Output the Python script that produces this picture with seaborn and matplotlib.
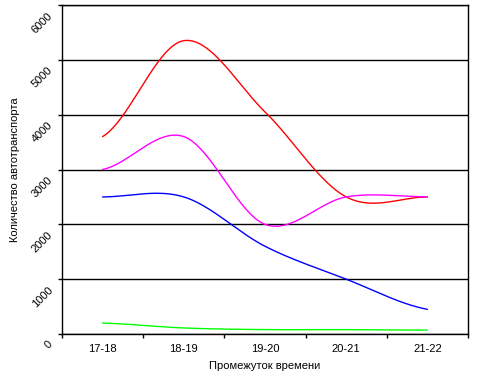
import numpy as np
import pandas as pd
import matplotlib
matplotlib.use("Agg")
import matplotlib.pyplot as plt
import matplotlib.transforms as mtransforms
import seaborn as sns

# categories and series values
periods = ['17-18', '18-19', '19-20', '20-21', '21-22']
red_vals = [3600, 5350, 4050, 2500, 2500]
magenta_vals = [3000, 3600, 2000, 2500, 2500]
blue_vals = [2500, 2500, 1600, 1000, 450]
green_vals = [200, 110, 80, 80, 70]
y_ticks = [0, 1000, 2000, 3000, 4000, 5000, 6000]


def smooth(vals, n=40):
    """Excel-like smoothed line (Catmull-Rom through each point)."""
    p = np.asarray(vals, dtype=float)
    pts = np.concatenate([[p[0]], p, [p[-1]]])
    xs, ys = [], []
    for i in range(len(p) - 1):
        p0, p1, p2, p3 = pts[i], pts[i + 1], pts[i + 2], pts[i + 3]
        t = np.linspace(0, 1, n, endpoint=(i == len(p) - 2))
        y = 0.5 * ((2 * p1) + (-p0 + p2) * t
                   + (2 * p0 - 5 * p1 + 4 * p2 - p3) * t ** 2
                   + (-p0 + 3 * p1 - 3 * p2 + p3) * t ** 3)
        xs.append(i + t)
        ys.append(y)
    return np.concatenate(xs), np.concatenate(ys)


sns.set_style("white")
plt.rcParams['font.family'] = ['Liberation Sans', 'DejaVu Sans']
plt.rcParams['text.color'] = 'black'
plt.rcParams['axes.labelcolor'] = 'black'
plt.rcParams['xtick.color'] = 'black'
plt.rcParams['ytick.color'] = 'black'

fig = plt.figure(figsize=(4.85, 3.84), dpi=100)
ax = fig.add_axes([62 / 485, 1 - 334 / 384, 406 / 485, 329 / 384])

series = [(red_vals, '#FF0000'), (magenta_vals, '#FF00FF'),
          (blue_vals, '#0000FF'), (green_vals, '#00FF00')]
for vals, col in series:
    x, y = smooth(vals)
    df = pd.DataFrame({'x': x, 'y': y})
    sns.lineplot(data=df, x='x', y='y', sort=False, color=col, lw=1.0, ax=ax)

ax.set_xlim(-0.5, len(periods) - 0.5)
ax.set_ylim(0, 6000)

# boundaries as major ticks, labels on minor ticks at category centres
ax.set_xticks(np.arange(-0.5, len(periods), 1.0))
ax.set_xticklabels([])
ax.set_xticks(np.arange(len(periods)), minor=True)
ax.set_xticklabels(periods, minor=True, fontsize=8)
ax.tick_params(axis='x', which='major', bottom=True, direction='out',
               length=3, width=1, color='black')
ax.tick_params(axis='x', which='minor', bottom=True, length=0, pad=7)

ax.set_yticks(y_ticks)
ax.set_yticklabels([str(v) for v in y_ticks], fontsize=8)
ax.tick_params(axis='y', left=True, direction='out', length=3, width=1,
               color='black', pad=5)
offset = mtransforms.ScaledTranslation(0, -0.09, fig.dpi_scale_trans)
for lbl in ax.get_yticklabels():
    lbl.set_rotation(45)
    lbl.set_rotation_mode('anchor')
    lbl.set_ha('right')
    lbl.set_va('center')
    lbl.set_transform(lbl.get_transform() + offset)

ax.yaxis.grid(True, color='black', lw=1.0)
ax.xaxis.grid(False)
for sp in ax.spines.values():
    sp.set_visible(True)
    sp.set_color('black')
    sp.set_linewidth(1.0)

ax.set_xlabel('Промежуток времени', fontsize=8, labelpad=5)
ax.set_ylabel('Количество автотранспорта', fontsize=8)
ax.yaxis.set_label_coords((20 - 62) / 406, 0.5)

fig.savefig('out.png', dpi=100)
